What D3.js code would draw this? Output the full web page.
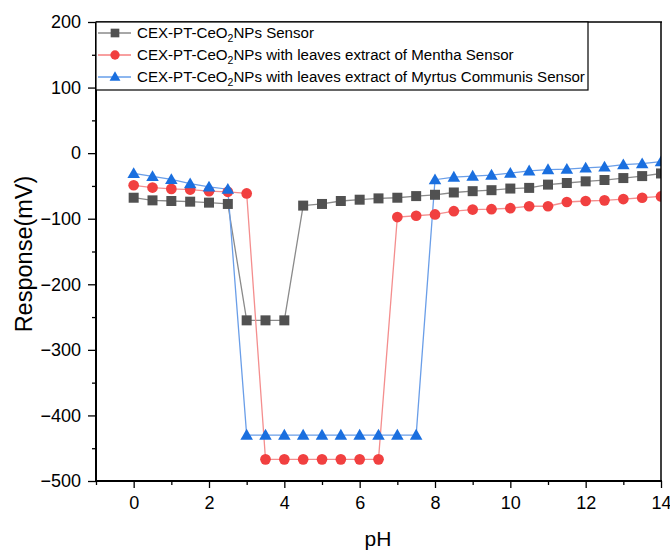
<!DOCTYPE html>
<html>
<head>
<meta charset="utf-8">
<script src="https://cdn.jsdelivr.net/npm/d3@7"></script>
<style>
  html, body { margin: 0; padding: 0; background: #fff; }
  svg { display: block; font-family: "Liberation Sans", Arial, sans-serif; }
</style>
</head>
<body>
<svg id="chart" width="670" height="551"></svg>
<script>
// ---- data ----
const pH = [0, 0.5, 1, 1.5, 2, 2.5, 3, 3.5, 4, 4.5, 5, 5.5, 6, 6.5, 7, 7.5, 8, 8.5, 9, 9.5, 10, 10.5, 11, 11.5, 12, 12.5, 13, 13.5, 14];
const sensorBase = [-68, -72, -73, -74, -75.5, -77.5, -255, -255, -255, -80, -77.5, -73, -71, -69, -68, -65.5, -63.5, -60, -58, -56.5, -54, -53, -48, -45.5, -43, -41, -38, -35, -31];
const sensorMentha = [-49, -52.5, -54.5, -55.5, -58, -59, -61.5, -467, -467, -467, -467, -467, -467, -467, -97.5, -95.5, -93.5, -88.5, -86, -85.5, -84, -81, -81, -74.5, -73, -72, -70, -68, -66];
const sensorMyrtus = [-31, -35.5, -40, -46.5, -51.5, -55, -430, -430, -430, -430, -430, -430, -430, -430, -430, -430, -40.5, -36.5, -35, -33.5, -30.5, -27, -25, -24.5, -22.5, -21, -17.5, -16, -13];
const seriesNames = [
  ["CEX-PT-CeO", "2", "NPs Sensor"],
  ["CEX-PT-CeO", "2", "NPs with leaves extract of Mentha Sensor"],
  ["CEX-PT-CeO", "2", "NPs with leaves extract of Myrtus Communis Sensor"]
];
const xTicks = [0, 2, 4, 6, 8, 10, 12, 14];
const yTicks = [200, 100, 0, -100, -200, -300, -400, -500];
const xTitle = "pH";
const yTitle = "Response(mV)";

// ---- layout ----
const L = 96, R = 661, T = 22, B = 481;
const svg = d3.select("#chart");
const x = d3.scaleLinear().domain([-1, 14]).range([L, R]);
const y = d3.scaleLinear().domain([-500, 200]).range([B, T]);

const styles = [
  { color: "#515151", line: "#8a8a8a", shape: "square" },
  { color: "#F14040", line: "#f48e8e", shape: "circle" },
  { color: "#1A6FDF", line: "#6a9ee8", shape: "triangle" }
];
const seriesData = [sensorBase, sensorMentha, sensorMyrtus];

svg.append("defs").append("clipPath").attr("id", "plotclip")
  .append("rect").attr("x", L).attr("y", T).attr("width", R - L).attr("height", B - T);

const symbolFor = (shape, scale) => {
  if (shape === "square") return d3.symbol().type(d3.symbolSquare).size(100 * scale)();
  if (shape === "circle") return d3.symbol().type(d3.symbolCircle).size(90 * scale)();
  return d3.symbol().type(d3.symbolTriangle).size(68 * scale)();
};

const plot = svg.append("g").attr("clip-path", "url(#plotclip)");
seriesData.forEach((vals, i) => {
  const st = styles[i];
  const pts = pH.map((p, j) => [p, vals[j]]);
  plot.append("path")
    .datum(pts)
    .attr("fill", "none")
    .attr("stroke", st.line)
    .attr("stroke-width", 1.3)
    .attr("d", d3.line().x(d => x(d[0])).y(d => y(d[1])));
});
seriesData.forEach((vals, i) => {
  const st = styles[i];
  const pts = pH.map((p, j) => [p, vals[j]]);
  plot.append("g").selectAll("path")
    .data(pts)
    .join("path")
    .attr("transform", d => `translate(${x(d[0])},${y(d[1]) + (st.shape === "triangle" ? 1 : 0)})`)
    .attr("d", symbolFor(st.shape, 1))
    .attr("fill", st.color);
});

// ---- axes ----
const xAxis = d3.axisBottom(x).tickValues(xTicks).tickSize(7).tickPadding(8).tickFormat(d3.format("d"));
const xMinor = d3.axisBottom(x).tickValues(d3.range(-1, 15, 1).filter(v => !xTicks.includes(v))).tickSize(4).tickFormat("");
const yAxis = d3.axisLeft(y).tickValues(yTicks).tickSize(8).tickPadding(7).tickFormat(d3.format("d"));
const yMinor = d3.axisLeft(y).tickValues(d3.range(-450, 200, 100)).tickSize(4).tickFormat("");

function styleAxis(g) {
  g.selectAll(".domain").remove();
  g.selectAll(".tick line").attr("stroke", "#000").attr("stroke-width", 1.3);
  g.selectAll(".tick text").attr("fill", "#000").style("font-size", "18px")
    .style("font-family", "Liberation Sans, Arial, sans-serif");
}
svg.append("g").attr("transform", `translate(0,${B})`).call(xAxis).call(styleAxis);
svg.append("g").attr("transform", `translate(0,${B})`).call(xMinor).call(styleAxis);
svg.append("g").attr("transform", `translate(${L},0)`).call(yAxis).call(styleAxis);
svg.append("g").attr("transform", `translate(${L},0)`).call(yMinor).call(styleAxis);

// frame
svg.append("line").attr("x1", L).attr("x2", R + 1).attr("y1", T).attr("y2", T).attr("stroke", "#000").attr("stroke-width", 1.5);
svg.append("line").attr("x1", R).attr("x2", R).attr("y1", T).attr("y2", B).attr("stroke", "#000").attr("stroke-width", 1.5);
svg.append("line").attr("x1", L).attr("x2", L).attr("y1", T).attr("y2", B + 1).attr("stroke", "#000").attr("stroke-width", 2);
svg.append("line").attr("x1", L - 1).attr("x2", R + 1).attr("y1", B).attr("y2", B).attr("stroke", "#000").attr("stroke-width", 2);

// titles
svg.append("text").attr("x", 378).attr("y", 546)
  .attr("text-anchor", "middle").style("font-size", "21px").attr("fill", "#000").text(xTitle);
svg.append("text").attr("transform", `translate(32,254) rotate(-90)`)
  .attr("text-anchor", "middle").style("font-size", "23.5px").attr("fill", "#000").text(yTitle);

// ---- legend ----
const lg = svg.append("g");
lg.append("rect").attr("x", L).attr("y", T).attr("width", 588 - L).attr("height", 90 - T)
  .attr("fill", "#fff").attr("stroke", "#000").attr("stroke-width", 1.2);
const rowY = [33, 55, 77];
seriesNames.forEach((parts, i) => {
  const st = styles[i];
  const ry = rowY[i];
  lg.append("line").attr("x1", L + 2).attr("x2", 131).attr("y1", ry).attr("y2", ry)
    .attr("stroke", st.color).attr("stroke-width", 1);
  lg.append("path").attr("transform", `translate(115,${ry + (st.shape === "triangle" ? 0.5 : 0)})`)
    .attr("d", symbolFor(st.shape, 0.75)).attr("fill", st.color);
  const t = lg.append("text").attr("x", 137).attr("y", ry + 5).style("font-size", "15.1px").attr("fill", "#000");
  t.append("tspan").text(parts[0]);
  t.append("tspan").attr("dy", 4).style("font-size", "10.5px").text(parts[1]);
  t.append("tspan").attr("dy", -4).text(parts[2]);
});
</script>
</body>
</html>
